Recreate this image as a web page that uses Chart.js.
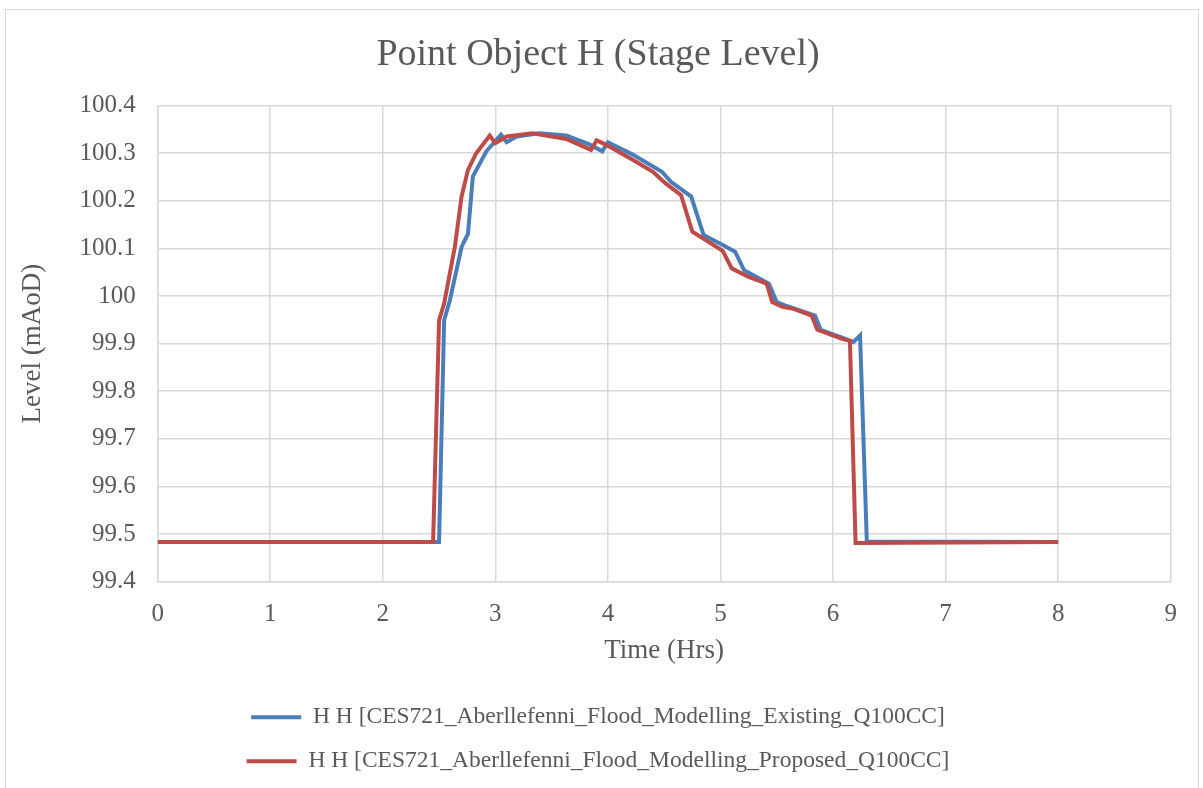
<!DOCTYPE html>
<html>
<head>
<meta charset="utf-8">
<script src="https://cdn.jsdelivr.net/npm/chart.js@4.4.0/dist/chart.umd.min.js"></script>
<style>
    html, body { margin: 0; padding: 0; background: #ffffff; overflow: hidden; }
    #box {
        position: absolute; left: 5px; top: 9px; width: 1194px; height: 790px;
        border: 1.5px solid #d9d9d9; box-sizing: border-box;
    }
    #wrap { position: absolute; left: 0; top: 0; width: 1191px; height: 779px; }
</style>
</head>
<body>
<div id="box"><div id="wrap"><canvas id="levelChart"></canvas></div></div>
<script>
    // Dữ liệu (giờ, mAoD)
    const existingTime = [0, 2.5, 2.545, 2.595, 2.70, 2.757, 2.80, 2.92, 3.05, 3.10, 3.19, 3.39, 3.63, 3.84, 3.95, 4.00,
        4.22, 4.48, 4.56, 4.74, 4.85, 5.02, 5.13, 5.21, 5.43, 5.50, 5.58, 5.84, 5.89, 6.11, 6.18, 6.24, 6.30, 8];
    const existingLevel = [99.483, 99.483, 99.949, 99.99, 100.103, 100.131, 100.251, 100.304, 100.339, 100.323, 100.335,
        100.342, 100.337, 100.318, 100.304, 100.323, 100.297, 100.261, 100.24, 100.209, 100.128, 100.107, 100.093,
        100.054, 100.026, 99.987, 99.98, 99.959, 99.929, 99.91, 99.903, 99.917, 99.484, 99.483];

    const proposedTime = [0, 2.447, 2.50, 2.545, 2.64, 2.70, 2.757, 2.83, 2.95, 3.00, 3.10, 3.33, 3.63, 3.85, 3.90, 3.98,
        4.22, 4.40, 4.51, 4.65, 4.75, 5.02, 5.10, 5.25, 5.41, 5.46, 5.55, 5.65, 5.81, 5.86, 6.08, 6.15, 6.20, 8];
    const proposedLevel = [99.483, 99.483, 99.949, 99.984, 100.103, 100.209, 100.265, 100.30, 100.337, 100.321, 100.335,
        100.342, 100.33, 100.307, 100.327, 100.318, 100.286, 100.261, 100.237, 100.212, 100.135, 100.095, 100.058,
        100.04, 100.026, 99.987, 99.977, 99.973, 99.959, 99.929, 99.91, 99.906, 99.481, 99.483];

    const seriesNames = [
        'H H [CES721_Aberllefenni_Flood_Modelling_Existing_Q100CC]',
        'H H [CES721_Aberllefenni_Flood_Modelling_Proposed_Q100CC]'
    ];

    const fontFamily = '"Liberation Serif", "DejaVu Serif", serif';
    const textColor = '#595959';
    const gridColor = '#d9d9d9';

    function toPoints(xs, ys) {
        return xs.map((x, i) => ({ x: x, y: ys[i] }));
    }

    const ctx = document.getElementById('levelChart').getContext('2d');
    const levelChart = new Chart(ctx, {
        type: 'line',
        data: {
            datasets: [{
                label: seriesNames[0],
                data: toPoints(existingTime, existingLevel),
                borderColor: '#4a7ebb',
                backgroundColor: '#4a7ebb',
                borderWidth: 4,
                pointRadius: 0,
                tension: 0,
                order: 1,
            }, {
                label: seriesNames[1],
                data: toPoints(proposedTime, proposedLevel),
                borderColor: '#be4b48',
                backgroundColor: '#be4b48',
                borderWidth: 4,
                pointRadius: 0,
                tension: 0,
                order: 0,
            }],
        },
        options: {
            responsive: true,
            maintainAspectRatio: false,
            animation: false,
            layout: { padding: { left: 11, right: 18, top: 16, bottom: 6 } },
            plugins: {
                title: {
                    display: true,
                    text: 'Point Object H (Stage Level)',
                    color: textColor,
                    font: { family: fontFamily, size: 38, weight: 'normal' },
                    padding: { top: 6, bottom: 28 },
                },
                legend: {
                    position: 'bottom',
                    labels: {
                        color: textColor,
                        font: { family: fontFamily, size: 23.5 },
                        usePointStyle: true,
                        pointStyle: 'line',
                        pointStyleWidth: 50,
                        boxHeight: 23.5,
                        padding: 20.5,
                        sort: (a, b) => a.datasetIndex - b.datasetIndex,
                    },
                },
                tooltip: { enabled: false },
            },
            scales: {
                x: {
                    type: 'linear',
                    min: 0,
                    max: 9,
                    ticks: {
                        stepSize: 1,
                        color: textColor,
                        font: { family: fontFamily, size: 25, lineHeight: 1 },
                        padding: 20,
                    },
                    grid: { color: gridColor, lineWidth: 1.5, drawTicks: false },
                    border: { color: gridColor, width: 1.5 },
                    title: {
                        display: true,
                        text: 'Time (Hrs)',
                        color: textColor,
                        font: { family: fontFamily, size: 27 },
                        padding: { top: -12, bottom: 18 },
                    },
                },
                y: {
                    min: 99.4,
                    max: 100.4,
                    ticks: {
                        stepSize: 0.1,
                        color: textColor,
                        font: { family: fontFamily, size: 25 },
                        padding: 22,
                        callback: function (value) {
                            return String(Number(value.toFixed(1)));
                        },
                    },
                    grid: { color: gridColor, lineWidth: 1.5, drawTicks: false },
                    border: { color: gridColor, width: 1.5 },
                    title: {
                        display: true,
                        text: 'Level (mAoD)',
                        color: textColor,
                        font: { family: fontFamily, size: 27 },
                        padding: { top: 0, bottom: 8 },
                    },
                },
            },
        },
    });
</script>
</body>
</html>
